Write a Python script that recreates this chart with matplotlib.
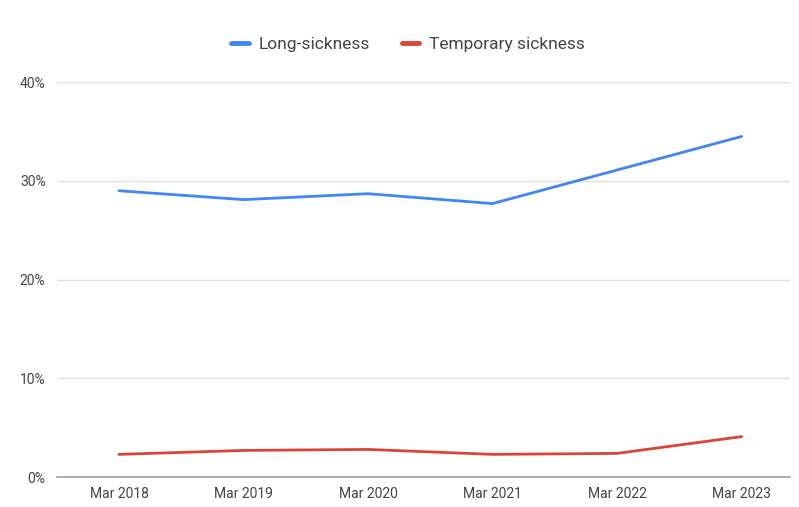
import matplotlib
matplotlib.use('Agg')
import matplotlib.pyplot as plt
from matplotlib.ticker import FuncFormatter

years = ['Mar 2018', 'Mar 2019', 'Mar 2020', 'Mar 2021', 'Mar 2022', 'Mar 2023']
long_sickness = [29.0, 28.1, 28.7, 27.7, 31.1, 34.5]
temporary_sickness = [2.3, 2.7, 2.8, 2.3, 2.4, 4.1]

plt.rcParams['font.family'] = ['Roboto', 'DejaVu Sans']

fig = plt.figure(figsize=(7.99, 5.07), dpi=100)
ax = fig.add_axes([0.071, 0.059, 0.918, 0.779])

x = range(len(years))
ax.plot(x, long_sickness, color='#4285F4', lw=2, label='Long-sickness',
        solid_joinstyle='round', solid_capstyle='round')
ax.plot(x, temporary_sickness, color='#DB4437', lw=2, label='Temporary sickness',
        solid_joinstyle='round', solid_capstyle='round')

ax.set_xlim(-0.5, 5.39)
ax.set_ylim(0, 40)
ax.set_yticks([0, 10, 20, 30, 40])
ax.yaxis.set_major_formatter(FuncFormatter(lambda v, p: f'{v:.0f}%'))
ax.set_xticks(list(x))
ax.set_xticklabels(years)

ax.grid(axis='y', color='#e0e0e0', lw=1)
ax.set_axisbelow(True)
for s in ['top', 'right', 'left']:
    ax.spines[s].set_visible(False)
ax.spines['bottom'].set_color('#9e9e9e')
ax.spines['bottom'].set_linewidth(1.2)
ax.tick_params(length=0, colors='#444444', labelsize=10)
ax.tick_params(axis='y', pad=8)
ax.tick_params(axis='x', pad=7)

leg = fig.legend(loc='center', bbox_to_anchor=(0.511, 0.912), ncol=2, frameon=False,
                 fontsize=12.5, handlelength=1.0, columnspacing=1.8, handletextpad=0.6)
for t in leg.get_texts():
    t.set_color('#444444')
for h in leg.get_lines():
    h.set_linewidth(3.5)

fig.savefig('out.png', dpi=100)
